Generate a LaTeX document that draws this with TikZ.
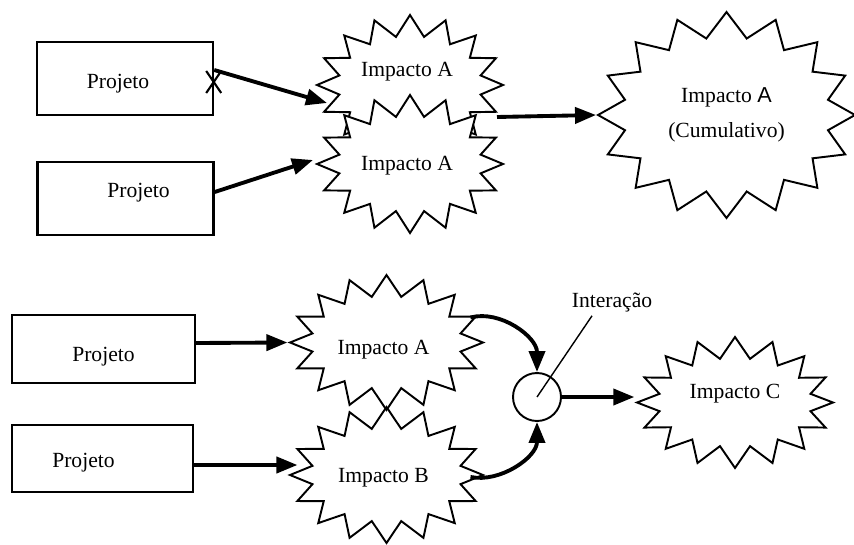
\documentclass[tikz,border=0pt]{standalone}
\usepackage{fontspec}
\setmainfont{Liberation Serif}
\setsansfont{Liberation Sans}
\usetikzlibrary{shapes.symbols,arrows.meta}
\tikzset{
  box/.style={rectangle,draw,line width=1.4pt,minimum width=3.52cm,minimum height=1.46cm},
  burst/.style={starburst,draw,line width=1.1pt,starburst points=16,random starburst=0,starburst point height=0.42cm,inner sep=0pt},
  arr/.style={-{Triangle[length=0.42cm,width=0.32cm]},line width=2.2pt},
}

\begin{document}
\begin{tikzpicture}[x=0.02cm,y=-0.02cm,font=\fontsize{12.3}{15}\selectfont]
  \useasboundingbox (0,0) rectangle (854,544);
  % cumulative
  \node[box,label={[shift={(-7,5)}]center:Projeto}] (p1) at (125,78.5) {};
  \node[box,label={[shift={(13,-6)}]center:Projeto}] (p2) at (125.5,198.5) {};
  \node[burst,fill=white,minimum width=3.72cm,minimum height=2.8cm,label={[shift={(-3,-13)}]center:Impacto A}] (a1) at (410,85) {};
  \node[burst,fill=white,minimum width=3.72cm,minimum height=2.76cm,label={[shift={(-3,2)}]center:Impacto A}] (a2) at (410,164) {};
  \node[burst,fill=white,minimum width=5.14cm,minimum height=4.12cm,starburst point height=0.5cm,align=center] (cum) at (726.5,115) {Impacto {\sffamily A}\\[4.8pt](Cumulativo)};

  \draw[arr] ([yshift=0.17cm]p1.east) -- ([shift={(-83,18)}]a1.center);
  \draw[line width=1.2pt] ([shift={(-8,-7.5)}]p1.east) -- ++(15,22) ([shift={(7,-7.5)}]p1.east) -- ++(-15,22);
  \draw[arr] ([yshift=0.13cm]p2.east) -- ([shift={(-97,-4)}]a2.center);
  \draw[arr] ([shift={(87,32)}]a1.center) -- (cum.west);

  % interaction
  \node[box,minimum width=3.66cm,minimum height=1.36cm,label={[shift={(0,8)}]center:Projeto}] (p3) at (103.5,349) {};
  \node[box,minimum width=3.62cm,minimum height=1.34cm,label={[shift={(-19,4)}]center:Projeto}] (p4) at (102.5,458.5) {};
  \node[burst,minimum width=3.86cm,minimum height=2.7cm,label={[shift={(-3,7)}]center:Impacto A}] (a3) at (386.5,342.5) {};
  \node[burst,minimum width=3.86cm,minimum height=2.72cm,label={[shift={(-3,3)}]center:Impacto B}] (b) at (386.5,475) {};
  \node[burst,minimum width=3.92cm,minimum height=2.62cm,label={[shift={(0,-9)}]center:Impacto C}] (c) at (735,402.5) {};
  \node[circle,draw,line width=1.1pt,minimum size=0.96cm,inner sep=0pt] (circ) at (537,397) {};
  \node (int) at (612,303) {Interação};

  \draw[arr] ([yshift=0.12cm]p3.east) -- (a3.west);
  \draw[arr] ([yshift=-0.13cm]p4.east) -- ([shift={(10,-10)}]b.west);
  \draw[arr] ([shift={(84,-25)}]a3.center) .. controls +(30,-8) and +(0,-35) .. (circ.north);
  \draw[arr] ([shift={(84,2)}]b.center) .. controls +(30,6) and +(0,35) .. (circ.south);
  \draw[arr] (circ.east) -- (circ.east -| c.west);
  \draw[line width=0.8pt] ([shift={(-20,-3)}]int.south) -- (circ.center);
\end{tikzpicture}
\end{document}
